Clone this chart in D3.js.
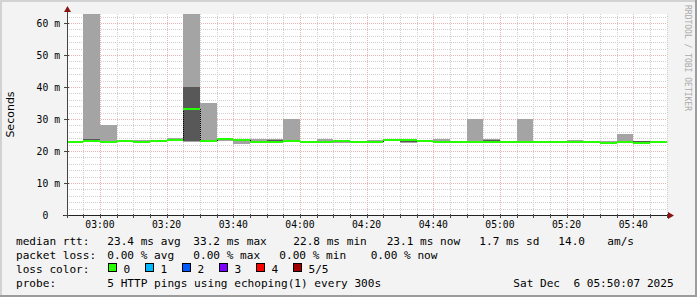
<!DOCTYPE html>
<html>
<head>
<script src="https://d3js.org/d3.v7.min.js"></script>
<style>
  body { margin: 0; background: #f3f3f3; }
  text { font-family: 'DejaVu Sans Mono', monospace; fill: #000; white-space: pre; }
</style>
</head>
<body>
<div id="chart"></div>
<script>
  // smoke per 5 minute step, in ms: min, 2nd, median, 4th, max of 5 pings
  var pMin = [22.4, 23.0, 22.6, 23.0, 22.7, 23.0, 23.1, 22.9, 22.7, 23.0, 22.3, 22.7, 22.8, 22.9, 22.7, 22.7, 22.6, 22.7,
              22.7, 23.1, 22.6, 22.8, 22.8, 22.7, 22.5, 22.7, 22.7, 22.4, 22.4, 22.7, 22.7, 22.4, 22.4, 22.6, 22.5, 22.6];
  var p2   = [22.5, 23.1, 22.7, 23.0, 22.75, 23.05, 23.2, 23.1, 23.0, 23.3, 23.2, 22.75, 22.85, 23.0, 22.75, 22.8, 22.8, 22.75,
              22.8, 23.2, 22.75, 22.9, 22.85, 22.75, 22.6, 22.75, 22.75, 22.6, 22.5, 22.75, 22.75, 22.5, 22.5, 22.7, 22.55, 22.7];
  var pMed = [22.75, 23.25, 22.8, 23.15, 22.85, 23.15, 23.35, 33.2, 23.2, 23.75, 23.4, 22.85, 22.9, 23.1, 22.8, 22.85, 23.2, 22.85,
              22.85, 23.3, 23.3, 23.0, 22.95, 22.85, 22.75, 22.75, 22.8, 22.8, 22.8, 22.8, 22.8, 22.75, 22.6, 22.8, 22.6, 22.8];
  var p4   = [22.9, 23.75, 23.0, 23.3, 23.0, 23.25, 23.6, 40.0, 23.5, 23.9, 23.5, 23.2, 23.5, 23.3, 22.9, 23.1, 23.3, 22.9,
              23.0, 23.5, 23.4, 23.2, 23.1, 22.9, 22.9, 23.4, 22.9, 22.9, 22.9, 22.85, 23.0, 22.85, 22.8, 23.0, 23.15, 22.9];
  var pMax = [23.0, 75.0, 28.2, 23.4, 23.4, 23.3, 24.0, 80.0, 35.1, 24.0, 23.6, 23.8, 23.75, 30.0, 23.0, 23.85, 23.4, 23.0,
              23.45, 23.7, 23.7, 23.5, 23.6, 23.0, 30.0, 23.65, 22.9, 30.0, 23.0, 22.9, 23.4, 23.0, 23.0, 25.35, 23.1, 23.0];

  var yTicks = [0, 10, 20, 30, 40, 50, 60];

  var legendRtt = [["median rtt:", 16], ["23.4 ms avg", 107.3], ["33.2 ms max", 193.3], ["22.8 ms min", 293.3],
                   ["23.1 ms now", 386.7], ["1.7 ms sd", 479.3], ["14.0", 558.3], ["am/s", 607.3]];
  var legendLoss = [["packet loss:", 16], ["0.00 % avg", 107.3], ["0.00 % max", 193.3], ["0.00 % min", 279.3],
                    ["0.00 % now", 370.7]];
  var lossLabels = ["0", "1", "2", "3", "4", "5/5"];
  var lossColors = ["#26ff00", "#00b8ff", "#0059ff", "#7e00ff", "#ff0000", "#a00000"];

  var W = 697, H = 297;
  var pLeft = 67, pRight = 667, pTop = 14, pBottom = 215;

  var t0 = new Date(2025, 11, 6, 2, 50, 7);
  var t1 = new Date(2025, 11, 6, 5, 50, 7);
  var slots = d3.timeMinute.every(5).range(new Date(2025, 11, 6, 2, 50), t1);

  var x = d3.scaleTime().domain([t0, t1]).range([pLeft, pRight]);
  var y = d3.scaleLinear().domain([0, 62.8]).range([pBottom, pTop]);

  var svg = d3.select("#chart").append("svg")
    .attr("width", W)
    .attr("height", H)
    .style("display", "block");

  // frame
  svg.append("rect").attr("width", W).attr("height", H).attr("fill", "#f3f3f3");
  svg.append("rect").attr("x", 0).attr("y", 0).attr("width", W).attr("height", 2).attr("fill", "#d2d2d2");
  svg.append("rect").attr("x", 0).attr("y", 0).attr("width", 2).attr("height", H).attr("fill", "#d2d2d2");
  svg.append("rect").attr("x", 0).attr("y", H - 2).attr("width", W).attr("height", 2).attr("fill", "#9c9c9c");
  svg.append("rect").attr("x", W - 2).attr("y", 0).attr("width", 2).attr("height", H).attr("fill", "#9c9c9c");

  svg.append("defs").append("clipPath").attr("id", "plot")
    .append("rect").attr("x", pLeft).attr("y", pTop).attr("width", pRight - pLeft).attr("height", pBottom - pTop);

  svg.append("rect")
    .attr("x", pLeft).attr("y", pTop)
    .attr("width", pRight - pLeft).attr("height", pBottom - pTop)
    .attr("fill", "#fff");

  // grid
  var grid = svg.append("g").attr("shape-rendering", "crispEdges").attr("stroke-dasharray", "1,1");
  var minorX = d3.timeMinute.every(5).range(t0, new Date(+t1 + 1));
  var majorX = d3.timeMinute.every(20).range(t0, t1);
  var minorY = d3.range(2, 63, 2).filter(function (d) { return d % 10 != 0; });

  grid.selectAll(".gx").data(minorX).enter().append("line")
    .attr("x1", function (d) { return Math.round(x(d)) + 0.5; })
    .attr("x2", function (d) { return Math.round(x(d)) + 0.5; })
    .attr("y1", pTop).attr("y2", pBottom)
    .attr("stroke", "#d0d0d0");
  grid.selectAll(".gy").data(minorY).enter().append("line")
    .attr("x1", pLeft).attr("x2", pRight)
    .attr("y1", function (d) { return Math.round(y(d)) + 0.5; })
    .attr("y2", function (d) { return Math.round(y(d)) + 0.5; })
    .attr("stroke", "#d0d0d0");
  grid.selectAll(".mx").data(majorX).enter().append("line")
    .attr("x1", function (d) { return Math.round(x(d)) + 0.5; })
    .attr("x2", function (d) { return Math.round(x(d)) + 0.5; })
    .attr("y1", pTop).attr("y2", pBottom)
    .attr("stroke", "#ebb2b2");
  grid.selectAll(".my").data(yTicks.slice(1)).enter().append("line")
    .attr("x1", pLeft).attr("x2", pRight)
    .attr("y1", function (d) { return Math.round(y(d)) + 0.5; })
    .attr("y2", function (d) { return Math.round(y(d)) + 0.5; })
    .attr("stroke", "#ebb2b2");

  // smoke
  var plot = svg.append("g").attr("clip-path", "url(#plot)").attr("shape-rendering", "crispEdges");
  function x0(i) { return x(slots[i]); }
  function x1(i) { return x(d3.timeMinute.offset(slots[i], 5)); }

  plot.selectAll(".outer").data(slots).enter().append("rect")
    .attr("x", function (d, i) { return x0(i); })
    .attr("width", function (d, i) { return x1(i) - x0(i); })
    .attr("y", function (d, i) { return y(pMax[i]); })
    .attr("height", function (d, i) { return y(pMin[i]) - y(pMax[i]); })
    .attr("fill", "#a4a4a4");

  plot.selectAll(".inner").data(slots).enter().append("rect")
    .attr("x", function (d, i) { return x0(i); })
    .attr("width", function (d, i) { return x1(i) - x0(i); })
    .attr("y", function (d, i) { return y(p4[i]); })
    .attr("height", function (d, i) { return y(p2[i]) - y(p4[i]); })
    .attr("fill", "#585858");

  // step connectors of the median
  plot.selectAll(".step").data(slots.slice(1)).enter().append("line")
    .attr("x1", function (d, i) { return Math.round(x0(i + 1)) + 0.5; })
    .attr("x2", function (d, i) { return Math.round(x0(i + 1)) + 0.5; })
    .attr("y1", function (d, i) { return y(pMed[i]); })
    .attr("y2", function (d, i) { return y(pMed[i + 1]); })
    .attr("stroke", "#000")
    .attr("stroke-dasharray", "1,1");

  // median, coloured by loss (all 0 here)
  plot.selectAll(".median").data(slots).enter().append("line")
    .attr("x1", function (d, i) { return x0(i); })
    .attr("x2", function (d, i) { return x1(i); })
    .attr("y1", function (d, i) { return y(pMed[i]); })
    .attr("y2", function (d, i) { return y(pMed[i]); })
    .attr("stroke", lossColors[0])
    .attr("stroke-width", 2);

  // axes
  var axis = svg.append("g").attr("shape-rendering", "crispEdges");
  axis.append("line").attr("x1", pLeft - 4).attr("x2", pRight + 2)
    .attr("y1", pBottom + 0.5).attr("y2", pBottom + 0.5).attr("stroke", "#222");
  axis.append("line").attr("x1", pLeft + 0.5).attr("x2", pLeft + 0.5)
    .attr("y1", pBottom + 3).attr("y2", pTop - 2).attr("stroke", "#444");
  axis.selectAll(".tx").data(minorX).enter().append("line")
    .attr("x1", function (d) { return Math.round(x(d)) + 0.5; })
    .attr("x2", function (d) { return Math.round(x(d)) + 0.5; })
    .attr("y1", pBottom - 1).attr("y2", pBottom + 3)
    .attr("stroke", "#444");
  axis.selectAll(".ty").data(yTicks).enter().append("line")
    .attr("x1", pLeft - 3).attr("x2", pLeft + 2)
    .attr("y1", function (d) { return Math.round(y(d)) + 0.5; })
    .attr("y2", function (d) { return Math.round(y(d)) + 0.5; })
    .attr("stroke", "#444");

  svg.append("path")
    .attr("d", "M" + (pRight + 1) + "," + (pBottom - 3) + "L" + (pRight + 7) + "," + (pBottom + 0.5) + "L" + (pRight + 1) + "," + (pBottom + 4) + "Z")
    .attr("fill", "#8a1414");
  svg.append("path")
    .attr("d", "M" + (pLeft - 3) + "," + (pTop - 2) + "L" + (pLeft + 0.5) + "," + (pTop - 8) + "L" + (pLeft + 4) + "," + (pTop - 2) + "Z")
    .attr("fill", "#8a1414");

  // tick labels
  var fmt = d3.timeFormat("%H:%M");
  svg.selectAll(".lx").data(majorX).enter().append("text")
    .attr("x", function (d) { return x(d); })
    .attr("y", 228)
    .attr("text-anchor", "middle")
    .style("font-size", "9.72px")
    .text(function (d) { return fmt(d); });

  svg.selectAll(".ly").data(yTicks).enter().append("text")
    .attr("x", 60)
    .attr("y", function (d) { return y(d) + 4; })
    .attr("text-anchor", "end")
    .style("font-size", "9.72px")
    .text(function (d) { return d == 0 ? "0  " : d + " m"; });

  svg.append("text")
    .attr("transform", "translate(14," + ((pTop + pBottom) / 2) + ") rotate(-90)")
    .attr("text-anchor", "middle")
    .style("font-family", "'DejaVu Sans', sans-serif")
    .style("font-size", "11px")
    .text("Seconds");

  svg.append("text")
    .attr("transform", "translate(685,5) rotate(90)")
    .style("font-size", "8px")
    .style("fill", "#aaa")
    .text("RRDTOOL / TOBI OETIKER");

  // legend
  var legend = svg.append("g").style("font-size", "11.1px");
  legendRtt.forEach(function (d) {
    legend.append("text").attr("x", d[1]).attr("y", 245).text(d[0]);
  });
  legendLoss.forEach(function (d) {
    legend.append("text").attr("x", d[1]).attr("y", 259).text(d[0]);
  });
  legend.append("text").attr("x", 16).attr("y", 273).text("loss color:");
  lossLabels.forEach(function (d, i) {
    var bx = 108.5 + i * 37;
    legend.append("rect")
      .attr("x", bx).attr("y", 263.5).attr("width", 8).attr("height", 8)
      .attr("fill", lossColors[i]).attr("stroke", "#000")
      .attr("shape-rendering", "crispEdges");
    legend.append("text").attr("x", bx + 15).attr("y", 273).text(d);
  });
  legend.append("text").attr("x", 16).attr("y", 287).text("probe:");
  legend.append("text").attr("x", 107.3).attr("y", 287).text("5 HTTP pings using echoping(1) every 300s");
  legend.append("text").attr("x", 513.3).attr("y", 287).text("Sat Dec  6 05:50:07 2025");
</script>
</body>
</html>
